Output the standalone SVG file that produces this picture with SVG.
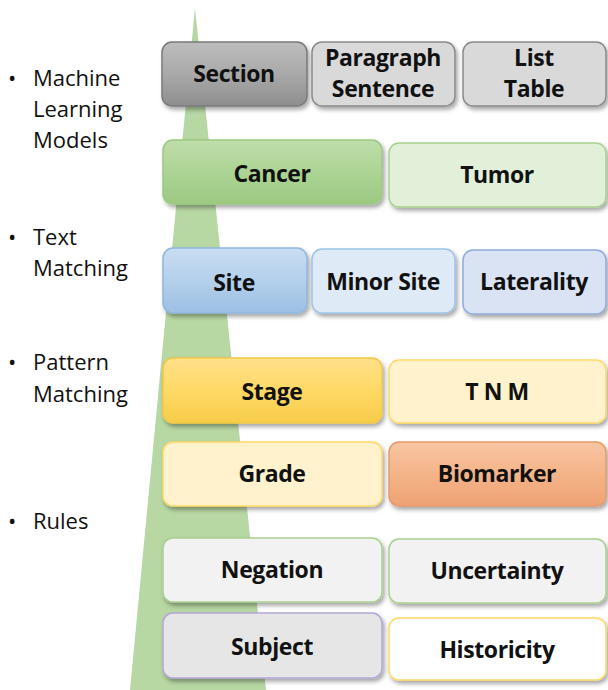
<svg xmlns="http://www.w3.org/2000/svg" width="608" height="690" viewBox="0 0 608 690">
<defs>
<filter id="sh" x="-10%" y="-10%" width="125%" height="135%">
<feDropShadow dx="2" dy="3" stdDeviation="2" flood-color="#000" flood-opacity="0.35"/>
</filter>
<linearGradient id="gSec" x1="0" y1="0" x2="0" y2="1"><stop offset="0" stop-color="#bdbdbd"/><stop offset="0.5" stop-color="#a9a9a9"/><stop offset="1" stop-color="#8e8e8e"/></linearGradient>
<linearGradient id="gCan" x1="0" y1="0" x2="0" y2="1"><stop offset="0" stop-color="#bfdeaa"/><stop offset="0.5" stop-color="#acd494"/><stop offset="1" stop-color="#9cc982"/></linearGradient>
<linearGradient id="gSite" x1="0" y1="0" x2="0" y2="1"><stop offset="0" stop-color="#c9def2"/><stop offset="0.5" stop-color="#b4d0ec"/><stop offset="1" stop-color="#9cc0e4"/></linearGradient>
<linearGradient id="gStage" x1="0" y1="0" x2="0" y2="1"><stop offset="0" stop-color="#ffe08a"/><stop offset="0.5" stop-color="#ffd966"/><stop offset="1" stop-color="#f7cc4a"/></linearGradient>
<linearGradient id="gBio" x1="0" y1="0" x2="0" y2="1"><stop offset="0" stop-color="#f8c6a4"/><stop offset="0.5" stop-color="#f4b488"/><stop offset="1" stop-color="#eea274"/></linearGradient>
</defs>
<style>
.bt{font-family:"Open Sans","Liberation Sans",sans-serif;font-weight:bold;font-size:23px;letter-spacing:-0.4px;fill:#111;text-anchor:middle}
.lt{font-family:"Open Sans","Liberation Sans",sans-serif;font-size:22px;fill:#111}
.bx{filter:url(#sh);stroke-width:1.5}
</style>
<g id="background">
<polygon points="195,8 130,690 266,690" fill="#b7d7a3"/>
</g>
<g id="legend">
<text class="lt" x="8" y="86">•</text><text class="lt" x="33" y="86">Machine</text>
<text class="lt" x="33" y="117">Learning</text>
<text class="lt" x="33" y="148">Models</text>
<text class="lt" x="8" y="245">•</text><text class="lt" x="33" y="245">Text</text>
<text class="lt" x="33" y="276">Matching</text>
<text class="lt" x="8" y="370">•</text><text class="lt" x="33" y="370">Pattern</text>
<text class="lt" x="33" y="402">Matching</text>
<text class="lt" x="8" y="529">•</text><text class="lt" x="33" y="529">Rules</text>
</g>
<g id="section"><rect class="bx" x="162" y="42" width="145" height="64" rx="10" fill="url(#gSec)" stroke="#7a7a7a"/><text class="bt" x="234" y="82">Section</text></g>
<g id="paragraph"><rect class="bx" x="312" y="42" width="143" height="64" rx="10" fill="#d9d9d9" stroke="#8a8a8a"/><text class="bt" x="383" y="66">Paragraph</text><text class="bt" x="383" y="97">Sentence</text></g>
<g id="list"><rect class="bx" x="463" y="42" width="143" height="64" rx="10" fill="#d9d9d9" stroke="#8a8a8a"/><text class="bt" x="534" y="66">List</text><text class="bt" x="534" y="97">Table</text></g>
<g id="cancer"><rect class="bx" x="163" y="140" width="219" height="64" rx="10" fill="url(#gCan)" stroke="#9cc982"/><text class="bt" x="272" y="182">Cancer</text></g>
<g id="tumor"><rect class="bx" x="389" y="143" width="217" height="64" rx="10" fill="#e2f0d9" stroke="#a9d18e"/><text class="bt" x="497" y="183">Tumor</text></g>
<g id="site"><rect class="bx" x="163" y="248" width="144" height="65" rx="10" fill="url(#gSite)" stroke="#8fb7df"/><text class="bt" x="234" y="291">Site</text></g>
<g id="minorsite"><rect class="bx" x="312" y="249" width="143" height="64" rx="10" fill="#deebf7" stroke="#9dc3e6"/><text class="bt" x="383" y="290">Minor Site</text></g>
<g id="laterality"><rect class="bx" x="463" y="250" width="143" height="64" rx="10" fill="#dae3f3" stroke="#8faadc"/><text class="bt" x="534" y="290">Laterality</text></g>
<g id="stage"><rect class="bx" x="163" y="358" width="219" height="65" rx="10" fill="url(#gStage)" stroke="#f2c744"/><text class="bt" x="272" y="400">Stage</text></g>
<g id="tnm"><rect class="bx" x="389" y="360" width="217" height="63" rx="10" fill="#fff2cc" stroke="#ffd966"/><text class="bt" x="497" y="400">T N M</text></g>
<g id="grade"><rect class="bx" x="163" y="442" width="219" height="64" rx="10" fill="#fff2cc" stroke="#ffd966"/><text class="bt" x="272" y="482">Grade</text></g>
<g id="biomarker"><rect class="bx" x="389" y="442" width="217" height="64" rx="10" fill="url(#gBio)" stroke="#e59a6a"/><text class="bt" x="497" y="482">Biomarker</text></g>
<g id="negation"><rect class="bx" x="163" y="538" width="219" height="64" rx="10" fill="#f2f2f2" stroke="#a9d18e"/><text class="bt" x="272" y="578">Negation</text></g>
<g id="uncertainty"><rect class="bx" x="389" y="539" width="217" height="64" rx="10" fill="#f2f2f2" stroke="#a9d18e"/><text class="bt" x="497" y="579">Uncertainty</text></g>
<g id="subject"><rect class="bx" x="163" y="613" width="219" height="65" rx="10" fill="#e7e6e6" stroke="#b4a7d6"/><text class="bt" x="272" y="655">Subject</text></g>
<g id="historicity"><rect class="bx" x="389" y="618" width="217" height="62" rx="10" fill="#ffffff" stroke="#ffd966"/><text class="bt" x="497" y="658">Historicity</text></g>
</svg>
